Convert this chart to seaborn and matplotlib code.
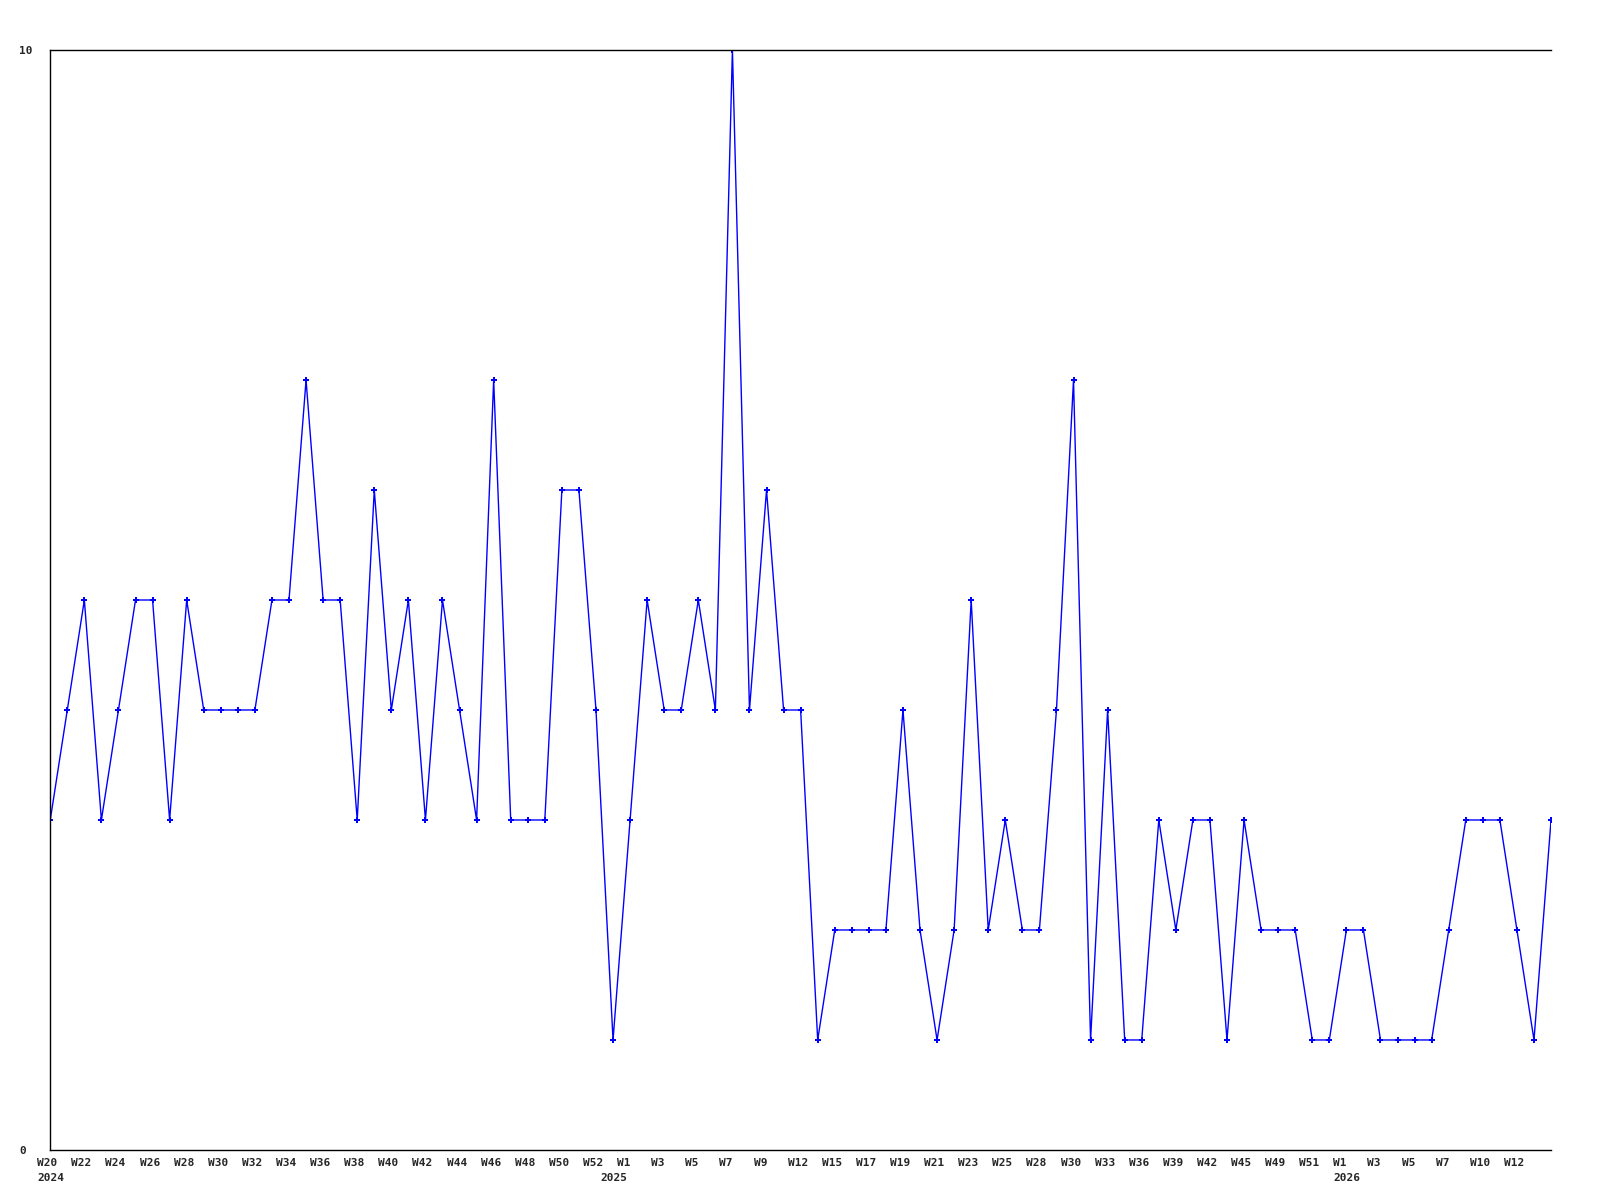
import numpy as np
import pandas as pd
import matplotlib
matplotlib.use("Agg")
import matplotlib.pyplot as plt
from matplotlib.transforms import ScaledTranslation
import seaborn as sns

# valores semanais (W20 2024 ... W14 2026)
valores = [3, 4, 5, 3, 4, 5, 5, 3, 5, 4, 4, 4, 4, 5, 5, 7, 5, 5, 3, 6,
           4, 5, 3, 5, 4, 3, 7, 3, 3, 3, 6, 6, 4, 1, 3, 5, 4, 4, 5, 4,
           10, 4, 6, 4, 4, 1, 2, 2, 2, 2, 4, 2, 1, 2, 5, 2, 3, 2, 2, 4,
           7, 1, 4, 1, 1, 3, 2, 3, 3, 1, 3, 2, 2, 2, 1, 1, 2, 2, 1, 1,
           1, 1, 2, 3, 3, 3, 2, 1, 3]

# rotulos do eixo x (um a cada dois pontos)
semanas = ["W20", "W22", "W24", "W26", "W28", "W30", "W32", "W34", "W36",
           "W38", "W40", "W42", "W44", "W46", "W48", "W50", "W52",
           "W1", "W3", "W5", "W7", "W9",
           "W12", "W15", "W17", "W19", "W21", "W23", "W25", "W28", "W30",
           "W33", "W36", "W39", "W42", "W45", "W49", "W51",
           "W1", "W3", "W5", "W7", "W10", "W12"]

anos = ["2024", "2025", "2026"]
pos_anos = [0, 33, 76]

df = pd.DataFrame({"idx": np.arange(len(valores)), "valor": valores})

sns.set_style("white")
plt.rcParams["font.family"] = ["DejaVu Sans Mono"]
plt.rcParams["font.weight"] = "bold"

fig = plt.figure(figsize=(16, 12), dpi=100)
ax = fig.add_axes([0.0314, 0.0417, 0.9380, 0.9166])

sns.lineplot(data=df, x="idx", y="valor", ax=ax, color="#0000ff",
             linewidth=1.0, marker="P", markersize=4.5,
             markeredgewidth=0, markerfacecolor="#0000ff")

ax.set_xlim(0, len(valores) - 1)
ax.set_ylim(0, 10)
ax.set_xlabel("")
ax.set_ylabel("")

for lado in ["left", "top", "bottom"]:
    ax.spines[lado].set_color("black")
    ax.spines[lado].set_linewidth(1.0)
ax.spines["right"].set_visible(False)

# eixo y: so 0 e 10, alinhados a esquerda
ax.set_yticks([0, 10], ["0", "10"])
ax.tick_params(axis="y", length=0, pad=22.5, labelsize=8)
for lab in ax.get_yticklabels():
    lab.set_horizontalalignment("left")

# eixo x
ax.set_xticks(np.arange(0, 2 * len(semanas), 2), semanas)
ax.tick_params(axis="x", length=0, pad=6, labelsize=8)
desloc = ScaledTranslation(-13 / 100, 0, fig.dpi_scale_trans)
for lab in ax.get_xticklabels():
    lab.set_horizontalalignment("left")
    lab.set_transform(lab.get_transform() + desloc)

trans = ax.get_xaxis_transform() + desloc
for ano, p in zip(anos, pos_anos):
    ax.text(p, 0, ano, transform=trans + ScaledTranslation(0, -23 / 100, fig.dpi_scale_trans),
            ha="left", va="top", fontsize=8, fontweight="bold")

fig.savefig("out.png", dpi=100, facecolor="white")
